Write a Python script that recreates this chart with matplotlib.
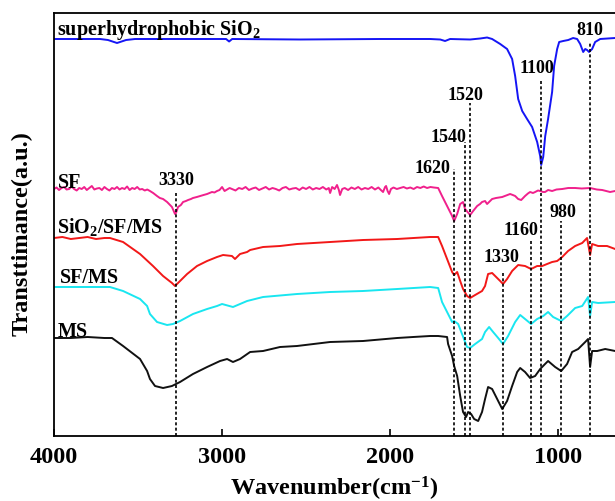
import matplotlib
matplotlib.use("Agg")
import matplotlib.pyplot as plt

# ---------------- data (wavenumber in cm-1, offset transmittance in a.u.) -------------
sio2_wn = [4000, 3726, 3679, 3625, 3571, 3518, 3012, 2976, 2958, 2940, 2536, 2060, 1762, 1702,
           1673, 1643, 1524, 1464, 1423, 1393, 1345, 1304, 1274, 1256, 1238, 1214, 1185, 1155,
           1125, 1107, 1101, 1089, 1077, 1060, 1036, 1024, 1006, 994, 970, 940, 911, 887, 869,
           851, 839, 828, 816, 798, 780, 750, 661, 400]
sio2_t = [397, 397, 396, 393, 396, 397, 397, 397, 394.5, 397, 396.5, 397, 397, 396.5,
          395, 397, 396.5, 397.5, 398.5, 397, 392, 387, 377, 360, 337, 325, 317, 309,
          294, 280, 271, 279, 300, 317, 344, 370, 387, 394, 395, 396, 398, 397, 392,
          384, 387, 386, 384, 387, 394, 397, 398, 398]

sf_wn = [4000, 3985, 3970, 3955, 3940, 3925, 3910, 3895, 3880, 3865, 3850, 3835, 3820, 3805,
         3790, 3775, 3760, 3745, 3730, 3715, 3700, 3685, 3670, 3655, 3640, 3625, 3610, 3595,
         3580, 3565, 3550, 3535, 3520, 3505, 3490, 3475, 3460, 3445, 3429, 3410, 3387, 3370,
         3351, 3327, 3310, 3298, 3280, 3274, 3262, 3245, 3232, 3215, 3202, 3185, 3173, 3150,
         3131, 3110, 3089, 3075, 3060, 3045, 3030, 3015, 3000, 2985, 2970, 2955, 2941, 2920,
         2900, 2880, 2860, 2840, 2820, 2800, 2780, 2760, 2740, 2720, 2700, 2680, 2660, 2640,
         2620, 2600, 2580, 2560, 2540, 2520, 2500, 2480, 2460, 2440, 2420, 2400, 2380, 2365,
         2357, 2345, 2330, 2316, 2305, 2298, 2285, 2270, 2250, 2230, 2210, 2190, 2170, 2150,
         2130, 2110, 2090, 2070, 2055, 2042, 2030, 2024, 2015, 2006, 1995, 1980, 1960, 1940,
         1920, 1900, 1880, 1860, 1840, 1820, 1800, 1780, 1760, 1740, 1714, 1691, 1661, 1631,
         1619, 1601, 1583, 1566, 1554, 1524, 1506, 1482, 1465, 1453, 1435, 1423, 1405, 1393,
         1370, 1350, 1333, 1310, 1286, 1270, 1256, 1238, 1220, 1197, 1180, 1167, 1150, 1137,
         1120, 1107, 1090, 1078, 1060, 1036, 1010, 976, 940, 899, 860, 810, 770, 738, 691,
         661, 400]
sf_t = [247, 248.5, 246, 248, 249, 246.5, 247, 249.5, 247, 245.5, 248, 247, 249, 246,
        248, 250, 246.5, 247.5, 248, 246, 249, 247, 245.5, 248, 247, 249, 246.5, 248,
        247, 249.5, 246, 248, 247, 249, 246.5, 247, 245.5, 246.5, 245, 243, 240, 238,
        237, 234, 231, 229, 222, 223, 229, 231, 234, 235, 236, 237, 238, 239,
        240, 241, 242, 243, 244, 243.5, 245, 246, 249, 245, 246.5, 248, 247, 245.5,
        248, 247, 249, 246, 247.5, 248.5, 246, 247.5, 249, 246.5, 248, 247, 245.5, 248,
        249, 246.5, 247.5, 248, 246, 248.5, 247, 249, 246.5, 248, 247, 249, 246.5, 248,
        243, 249, 247, 251, 246, 241, 247, 248, 246, 248.5, 247, 249, 246.5, 248,
        247, 249, 246.5, 248.5, 246, 244, 249, 250, 245, 242, 247, 248.5, 247, 248,
        249, 247.5, 248.5, 247, 249, 248, 249.5, 248, 249, 248.5, 248, 240, 230, 220,
        215, 222, 232, 234, 227, 221, 225, 230, 232, 234, 235, 232, 235, 237,
        238, 238.5, 239, 240.5, 242, 241, 240, 237, 236, 240, 242.5, 244, 243, 244,
        245.5, 245, 244, 244, 246, 245, 246.5, 247, 248, 248, 247.5, 248, 246.5, 246, 244,
        245, 245]

sfms_sio2_wn = [4000, 3950, 3900, 3850, 3800, 3750, 3700, 3667, 3589, 3488, 3411, 3351, 3298,
                3280, 3250, 3208, 3149, 3089, 3030, 2994, 2941, 2923, 2893, 2851, 2833, 2756,
                2655, 2554, 2357, 2161, 1958, 1762, 1714, 1691, 1661, 1631, 1619, 1601, 1583,
                1566, 1542, 1524, 1494, 1453, 1435, 1417, 1393, 1375, 1345, 1328, 1304, 1274,
                1238, 1197, 1161, 1125, 1095, 1066, 1036, 1006, 976, 941, 899, 857, 828, 810,
                798, 762, 709, 661, 400]
sfms_sio2_t = [198, 199, 197, 198, 199, 197, 198, 198, 194, 182, 170, 160, 153,
               150, 155, 162, 170, 175, 179, 181, 180, 177, 182, 184, 186, 189,
               190, 192, 194, 196, 197, 199, 199, 190, 177, 164, 161, 164, 155,
               147, 140, 138, 141, 145, 150, 162, 163, 160, 155, 152, 157, 165,
               171, 170, 167, 170, 170, 172, 174, 175, 179, 185, 190, 193, 198, 181,
               192, 190, 190, 187, 185]

sfms_wn = [4000, 3900, 3800, 3667, 3589, 3488, 3446, 3429, 3387, 3327, 3292, 3250, 3173, 3089,
           3030, 3000, 2935, 2893, 2851, 2756, 2554, 2357, 2161, 1958, 1762, 1714, 1691, 1661,
           1631, 1619, 1595, 1572, 1542, 1524, 1494, 1453, 1435, 1411, 1387, 1357, 1328, 1298,
           1256, 1226, 1197, 1161, 1125, 1089, 1060, 1030, 982, 947, 899, 857, 822, 810, 798,
           762, 661, 400]
sfms_t = [149, 149, 149, 149, 145, 137, 130, 122, 114, 111, 112, 115, 122, 127,
          130, 132, 129, 132, 135, 139, 142, 144, 145, 147, 149, 148, 134, 124,
          114, 115, 112, 102, 89, 88, 92, 97, 104, 109, 104, 98, 92, 100,
          114, 121, 117, 112, 117, 120, 124, 119, 115, 120, 128, 130, 139, 120, 134,
          133, 134, 132]

ms_wn = [4000, 3900, 3800, 3700, 3655, 3589, 3488, 3446, 3429, 3399, 3351, 3298, 3250, 3173,
         3089, 3012, 2970, 2935, 2893, 2833, 2756, 2655, 2554, 2357, 2161, 1958, 1863, 1762,
         1714, 1661, 1655, 1631, 1619, 1601, 1583, 1566, 1548, 1536, 1518, 1500, 1476, 1453,
         1435, 1417, 1393, 1363, 1333, 1304, 1274, 1244, 1226, 1197, 1167, 1137, 1107, 1078,
         1060, 1018, 982, 947, 917, 881, 839, 822, 810, 798, 768, 720, 661, 400]
ms_t = [98, 98, 99, 98, 98, 90, 77, 65, 57, 50, 48, 50, 54, 62,
        69, 75, 77, 74, 77, 84, 85, 89, 90, 94, 95, 98, 99, 100,
        100, 99, 92, 80, 70, 60, 40, 24, 19, 24, 22, 17, 15, 24,
        37, 49, 47, 37, 27, 35, 50, 64, 68, 64, 58, 60, 67, 72,
        75, 69, 65, 72, 84, 87, 94, 97, 69, 85, 85, 87, 85, 85]

series_names = ["superhydrophobic SiO$_2$", "SF", "SiO$_2$/SF/MS", "SF/MS", "MS"]

peak_labels = ["3330", "1620", "1540", "1520", "1330", "1160", "1100", "980", "810"]
peak_wn = [3274, 1619, 1554, 1527, 1328, 1161, 1101, 982, 810]

x_ticks = [4000, 3000, 2000, 1000]

# ---------------- style / layout ----------------
FONT = "Liberation Serif"
plt.rcParams["font.family"] = [FONT, "DejaVu Serif"]
plt.rcParams["font.weight"] = "bold"
plt.rcParams["mathtext.default"] = "regular"

W, H = 615, 502
fig = plt.figure(figsize=(W / 100, H / 100), dpi=100)
ax = fig.add_axes([54 / W, (H - 437) / H, 605 / W, 423 / H])
ax.set_xlim(4000, 400)
ax.set_ylim(0, 423)

series = [(sio2_wn, sio2_t, "#1515f5"),
          (sf_wn, sf_t, "#f0208c"),
          (sfms_sio2_wn, sfms_sio2_t, "#f21818"),
          (sfms_wn, sfms_t, "#19e6f0"),
          (ms_wn, ms_t, "#111111")]
for xs, ys, c in series:
    ax.plot(xs, ys, color=c, lw=1.4, solid_joinstyle="round")

# dashed marker lines: top of each line (a.u.)
line_tops = [245, 267, 294, 333, 165, 195, 355, 215, 394]
for wn, top in zip(peak_wn, line_tops):
    ax.plot([wn, wn], [0, top], color="black", lw=1.2, ls=(0, (1.8, 1.4)))

# peak labels: (x, baseline)
peak_label_pos = [(3274, 252), (1750, 264), (1655, 295), (1554, 337), (1339, 175),
                  (1220, 202), (1125, 364), (970, 220), (810, 402)]
for txt, (x, y) in zip(peak_labels, peak_label_pos):
    ax.text(x, y, txt, ha="center", va="baseline", fontsize=13, fontweight="bold")

name_pos = [(3982, 402), (3976, 249), (3982, 204), (3964, 154), (3976, 100)]
for txt, (x, y) in zip(series_names, name_pos):
    ax.text(x, y, txt, ha="left", va="baseline", fontsize=14.5, fontweight="bold")

ax.set_xticks(x_ticks)
ax.set_xticklabels([str(t) for t in x_ticks])
ax.set_yticks([])
ax.tick_params(axis="x", direction="in", length=5, width=1.2, pad=7, labelsize=17.5)
for lab in ax.get_xticklabels():
    lab.set_fontweight("bold")
for s in ["left", "bottom", "top"]:
    ax.spines[s].set_linewidth(1.3)
ax.spines["right"].set_visible(False)

fig.text(334 / W, 1 - 489 / H, "Wavenumber(cm$^{-1}$)", ha="center", va="center",
         fontsize=17.5, fontweight="bold")
fig.text(22 / W, 1 - 234 / H, "Transttimance(a.u.)", ha="center", va="center",
         rotation=90, fontsize=17.5, fontweight="bold")

fig.savefig("out.png", dpi=100)
